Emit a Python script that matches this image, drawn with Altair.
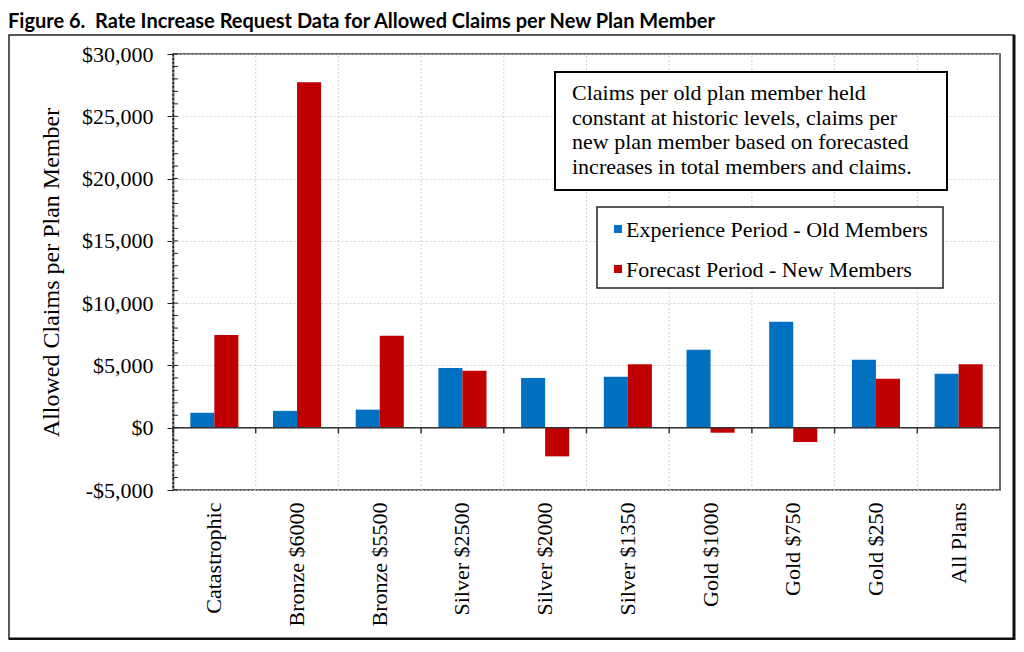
import altair as alt
import pandas as pd

categories = ["Catastrophic", "Bronze $6000", "Bronze $5500", "Silver $2500", "Silver $2000",
              "Silver $1350", "Gold $1000", "Gold $750", "Gold $250", "All Plans"]
old_members = [1200, 1350, 1450, 4800, 4000, 4100, 6250, 8500, 5450, 4330]
new_members = [7450, 27730, 7380, 4570, -2300, 5100, -400, -1150, 3930, 5100]
series_names = ["Experience Period - Old Members", "Forecast Period - New Members"]
series_colors = ["#0070C0", "#C00000"]
y_ticks = [-5000, 0, 5000, 10000, 15000, 20000, 25000, 30000]
minor_ticks = list(range(-5000, 30001, 1000))
note_lines = ["Claims per old plan member held",
              "constant at historic levels, claims per",
              "new plan member based on forecasted",
              "increases in total members and claims."]
fig_title = "Figure 6.\u00a0 Rate Increase Request Data for Allowed Claims per New Plan Member"

rows = []
for c, o, n in zip(categories, old_members, new_members):
    rows.append({"category": c, "series": series_names[0], "value": o})
    rows.append({"category": c, "series": series_names[1], "value": n})
df = pd.DataFrame(rows)
df_cat = pd.DataFrame({"category": categories})
df_minor = pd.DataFrame({"v": minor_ticks})
df_series = pd.DataFrame({"series": series_names})
one = pd.DataFrame({"k": [0]})

SERIF = "Liberation Serif"
YTITLE = "Allowed Claims per Plan Member"
color_scale = alt.Scale(domain=series_names, range=series_colors)
y_scale = alt.Scale(domain=[-5000, 30000], nice=False)

x_axis = alt.Axis(labelAngle=-90, labelFont=SERIF, labelFontSize=22, labelColor="black",
                  labelPadding=12, ticks=False, domain=False, grid=False, title=None)
x_enc = alt.X("category:N", sort=categories,
              scale=alt.Scale(paddingInner=0, paddingOuter=0), axis=x_axis)

y_axis = alt.Axis(values=y_ticks,
                  labelExpr="datum.value < 0 ? '-$' + format(-datum.value, ',') : '$' + format(datum.value, ',')",
                  labelFont=SERIF, labelFontSize=22, labelColor="black", labelPadding=14,
                  tickSize=6, tickColor="#222", domainColor="#222", domainWidth=1.5,
                  grid=True, gridColor="#d4d4d4", gridDash=[2, 2],
                  title=YTITLE, titleFont=SERIF, titleFontSize=24, titleFontWeight="normal",
                  titleColor="black", titlePadding=18)

vgrid = alt.Chart(df_cat).mark_rule(color="#d4d4d4", strokeDash=[2, 2], strokeWidth=1).encode(
    x=alt.X("category:N", sort=categories, bandPosition=0),
    y=alt.datum(-5000), y2=alt.datum(30000))

bars = alt.Chart(df).mark_bar().encode(
    x=x_enc,
    xOffset=alt.XOffset("series:N", sort=series_names,
                        scale=alt.Scale(paddingOuter=0.72, paddingInner=0)),
    y=alt.Y("value:Q", scale=y_scale, axis=y_axis),
    color=alt.Color("series:N", scale=color_scale, legend=None))

zero = alt.Chart(one).mark_rule(color="#333", strokeWidth=1.5).encode(y=alt.datum(0))

bticks = alt.Chart(df_cat).mark_rule(color="#333", strokeWidth=1.5).encode(
    x=alt.X("category:N", sort=categories, bandPosition=0),
    y=alt.datum(0), y2=alt.datum(-450))

minor = alt.Chart(df_minor).mark_rule(color="#222", strokeWidth=1).encode(
    y=alt.Y("v:Q", title=YTITLE), x=alt.value(0), x2=alt.value(5))

note_box = alt.Chart(one).mark_rect(fill="white", stroke="black", strokeWidth=2).encode(
    x=alt.value(382), x2=alt.value(774), y=alt.value(18), y2=alt.value(136))
note_text = alt.Chart(pd.DataFrame({"note": ["\n".join(note_lines)]})).mark_text(
    align="left", baseline="top", font=SERIF, fontSize=22, lineHeight=24.5,
    lineBreak="\n", color="black").encode(
    x=alt.value(399), y=alt.value(29), text="note:N")

leg_box = alt.Chart(one).mark_rect(fill="white", stroke="#222", strokeWidth=1.5).encode(
    x=alt.value(424), x2=alt.value(770), y=alt.value(153), y2=alt.value(234))
leg_layers = []
for i, name in enumerate(series_names):
    base = alt.Chart(df_series).transform_filter(alt.datum.series == name)
    leg_layers.append(base.mark_square(size=64, opacity=1).encode(
        x=alt.value(445), y=alt.value(175 + 40 * i),
        color=alt.Color("series:N", scale=color_scale, legend=None)))
    leg_layers.append(base.mark_text(align="left", baseline="middle", font=SERIF,
                                     fontSize=22, color="black").encode(
        x=alt.value(453), y=alt.value(176 + 40 * i), text="series:N"))

title = alt.Chart(one).mark_text(align="left", baseline="alphabetic", font="Lato",
                                 fontWeight="bold", fontSize=20, color="black").encode(
    x=alt.value(-165), y=alt.value(-26), text=alt.value(fig_title))

frame = alt.Chart(one).mark_rect(filled=False, stroke="#222", strokeWidth=1.5).encode(
    x=alt.value(-164), x2=alt.value(841), y=alt.value(-19), y2=alt.value(585))
frame_r = alt.Chart(one).mark_rule(color="#111", strokeWidth=3).encode(
    x=alt.value(841), y=alt.value(-19), y2=alt.value(586))
frame_b = alt.Chart(one).mark_rule(color="#111", strokeWidth=3).encode(
    y=alt.value(585), x=alt.value(-164), x2=alt.value(842))

chart = alt.layer(vgrid, bars, zero, bticks, minor, note_box, note_text, leg_box,
                  *leg_layers, title, frame, frame_r, frame_b).properties(
    width=827, height=436,
    padding={"left": 165, "top": 46, "right": 16, "bottom": 150},
    autosize=alt.AutoSizeParams(type="none"),
).configure_view(stroke="#333", strokeWidth=1.5)

chart.save("out.html", embed_options={"renderer": "svg", "actions": False})
